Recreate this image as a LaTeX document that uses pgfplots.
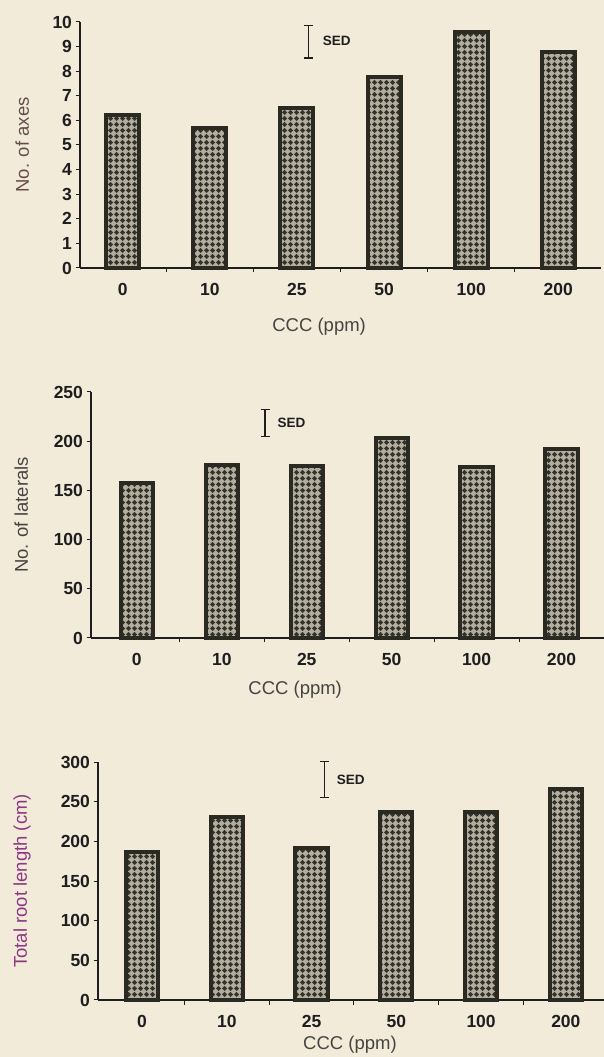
\documentclass[border=0pt]{standalone}
\usepackage{fontspec}
\setmainfont{Liberation Sans}
\usepackage{pgfplots}
\usepackage{pgfplotstable}
\pgfplotsset{compat=1.18}
\usetikzlibrary{patterns}
\definecolor{paper}{RGB}{242,235,218}
\definecolor{barbg}{RGB}{178,173,158}
\definecolor{bardk}{RGB}{52,52,42}
\definecolor{inkc}{RGB}{30,30,30}
\definecolor{bordc}{RGB}{42,42,34}
\definecolor{labA}{RGB}{100,78,75}
\definecolor{labB}{RGB}{70,68,66}
\definecolor{labC}{RGB}{140,55,130}
\pgfdeclarepatternformonly{diamonds}{\pgfqpoint{0pt}{0pt}}{\pgfqpoint{6pt}{6pt}}{\pgfqpoint{6pt}{6pt}}{%
  \pgfpathmoveto{\pgfqpoint{0pt}{3pt}}%
  \pgfpathlineto{\pgfqpoint{3pt}{0pt}}%
  \pgfpathlineto{\pgfqpoint{6pt}{3pt}}%
  \pgfpathlineto{\pgfqpoint{3pt}{6pt}}%
  \pgfpathclose
  \pgfusepath{fill}}

\pgfplotstableread{
x y
0 6.2
1 5.7
2 6.5
3 7.75
4 9.6
5 8.8
}\axesdata
\pgfplotstableread{
x y
0 158
1 176
2 175
3 203
4 174
5 192
}\lateraldata
\pgfplotstableread{
x y
0 187
1 231
2 191
3 237
4 237
5 266
}\lengthdata

\newcommand\tickfont{\fontsize{17.5}{17.5}\selectfont\bfseries}
\newcommand\labfont{\fontsize{18.5}{18.5}\selectfont}
\newcommand\sedfont{\fontsize{13.5}{13.5}\selectfont\bfseries}

\pgfplotsset{
  panel/.style={
    scale only axis, anchor=south west, clip=false,
    axis lines*=left,
    axis line style={line width=1.2pt, draw=inkc},
    every tick/.style={line width=1pt, draw=inkc},
    tick align=outside,
    major tick length=4.5pt,
    /pgf/number format/assume math mode=true,
    xtick={0.5,1.5,2.5,3.5,4.5}, xticklabels={},
    extra x ticks={0,1,2,3,4,5},
    extra x tick labels={0,10,25,50,100,200},
    extra x tick style={major tick length=0pt, tick style={draw=none}},
    xticklabel style={font=\tickfont, text=inkc, yshift=-12pt},
    yticklabel style={font=\tickfont, text=inkc},
    xlabel style={font=\labfont, text=labB, anchor=center},
    ylabel style={font=\labfont, anchor=center},
    ymin=0,
  },
  barstyle/.style={ybar, bar width=0.38, preaction={fill=barbg},
    pattern=diamonds, pattern color=bardk, draw=bordc, line width=4pt},
  sedstyle/.style={draw=none, mark=none, forget plot,
    error bars/.cd, y dir=both, y explicit,
    error bar style={draw=inkc, line width=1.3pt},
    error mark options={draw=inkc, line width=1.3pt, mark size=4.5pt, rotate=90}},
}

\begin{document}
\begin{tikzpicture}
\fill[paper] (0,0) rectangle (604pt,1057pt);

% Panel 1
\begin{axis}[panel, at={(80pt,789pt)}, width=521pt, height=246pt,
  xmin=-0.49, xmax=5.49, ymax=10, ytick={0,1,...,10},
  xlabel={CCC (ppm)}, xlabel style={at={(axis description cs:0.459,-0.24)}},
  ylabel={No. of axes}, ylabel style={at={(axis description cs:-0.111,0.5)}, text=labA}]
\addplot[barstyle] table[x=x,y=y] {\axesdata};
\addplot[sedstyle] coordinates {(2.13,9.2) +- (0,0.66)};
\node[font=\sedfont, text=inkc, anchor=west] at (axis cs:2.13,9.2) [xshift=11pt, yshift=1pt] {SED};
\end{axis}

% Panel 2
\begin{axis}[panel, at={(91pt,419pt)}, width=513pt, height=246pt,
  xmin=-0.54, xmax=5.5, ymax=250, ytick={0,50,...,250},
  xlabel={CCC (ppm)}, xlabel style={at={(axis description cs:0.398,-0.211)}},
  ylabel={No. of laterals}, ylabel style={at={(axis description cs:-0.136,0.5)}, text=labB}]
\addplot[barstyle] table[x=x,y=y] {\lateraldata};
\addplot[sedstyle] coordinates {(1.51,218.5) +- (0,13.5)};
\node[font=\sedfont, text=inkc, anchor=west] at (axis cs:1.51,218.5) [xshift=9pt] {SED};
\end{axis}

% Panel 3
\begin{axis}[panel, at={(98pt,57pt)}, width=506pt, height=238pt,
  xmin=-0.52, xmax=5.45, ymax=300, ytick={0,50,...,300},
  xlabel={CCC (ppm)}, xlabel style={at={(axis description cs:0.498,-0.189)}},
  ylabel={Total root length (cm)}, ylabel style={at={(axis description cs:-0.150,0.5)}, text=labC}]
\addplot[barstyle] table[x=x,y=y] {\lengthdata};
\addplot[sedstyle] coordinates {(2.15,278) +- (0,23)};
\node[font=\sedfont, text=inkc, anchor=west] at (axis cs:2.15,278) [xshift=9pt] {SED};
\end{axis}

\pgfresetboundingbox
\useasboundingbox (0,0) rectangle (604pt,1057pt);
\end{tikzpicture}
\end{document}
